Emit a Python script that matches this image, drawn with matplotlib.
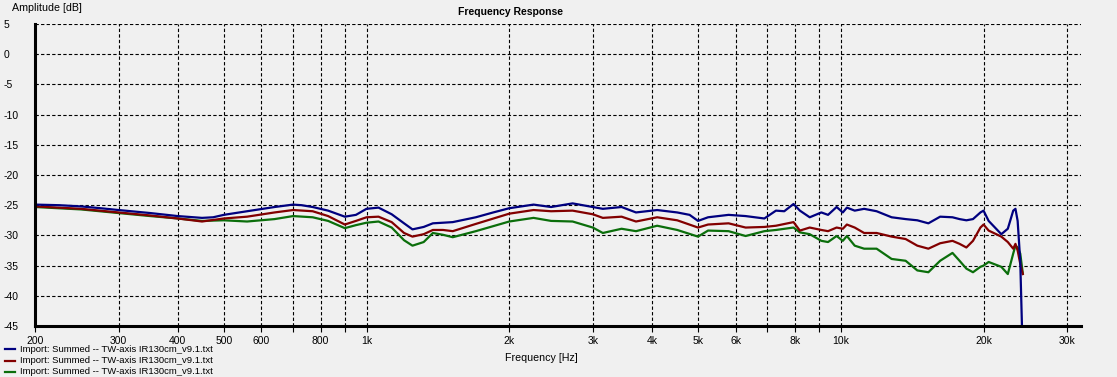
import matplotlib
matplotlib.use("Agg")
import matplotlib.pyplot as plt
from matplotlib.ticker import FixedLocator, NullLocator
import numpy as np

plt.rcParams['font.family'] = ['Liberation Sans', 'DejaVu Sans']
plt.rcParams['font.size'] = 7.5

freq_blue = [200, 225, 250, 275, 300, 350, 400, 450, 475, 500, 560, 640, 700, 730, 770,
             830, 900, 950, 1000, 1060, 1130, 1200, 1250, 1320, 1380, 1450, 1520, 1700,
             1850, 2000, 2250, 2450, 2720, 3000, 3150, 3450, 3700, 4100, 4520, 4800, 5000,
             5250, 5800, 6300, 6900, 7300, 7600, 7950, 8200, 8600, 9100, 9400, 9800, 10100,
             10300, 10700, 11200, 11900, 12800, 13700, 14500, 15300, 16200, 17200, 17800,
             18400, 19000, 19700, 20000, 20500, 21800, 22500, 23100, 23350, 23600, 23900,
             24100]
amp_blue = [-24.9, -25.0, -25.2, -25.5, -25.8, -26.3, -26.8, -27.1, -27.0, -26.6, -26.0,
            -25.3, -24.9, -25.0, -25.3, -25.9, -26.9, -26.6, -25.6, -25.4, -26.5, -28.0,
            -29.0, -28.6, -28.0, -27.9, -27.8, -27.0, -26.2, -25.5, -24.9, -25.3, -24.7,
            -25.3, -25.6, -25.3, -26.2, -25.8, -26.2, -26.6, -27.6, -27.0, -26.6, -26.8,
            -27.2, -25.9, -26.0, -24.8, -25.9, -27.0, -26.2, -26.6, -25.3, -26.2, -25.4,
            -25.9, -25.6, -26.0, -27.0, -27.3, -27.5, -28.0, -26.9, -27.0, -27.3, -27.5,
            -27.3, -26.2, -25.9, -27.6, -29.8, -28.9, -25.9, -25.6, -27.6, -34.2, -45.0]

freq_red = [200, 250, 300, 350, 400, 450, 500, 560, 640, 700, 770, 830, 900, 950, 1000,
            1060, 1130, 1200, 1250, 1320, 1380, 1450, 1520, 1700, 2000, 2250, 2450, 2720,
            3000, 3150, 3450, 3700, 4100, 4520, 5000, 5250, 5800, 6300, 6900, 7300, 7950,
            8200, 8600, 9100, 9400, 9800, 10100, 10300, 10700, 11200, 11900, 12800, 13700,
            14500, 15300, 16200, 17200, 17800, 18400, 19000, 19700, 20000, 20500, 21800,
            22500, 23100, 23350, 23600, 23900, 24200]
amp_red = [-25.2, -25.6, -26.2, -26.7, -27.2, -27.7, -27.2, -26.9, -26.2, -25.8, -26.0,
           -26.8, -28.2, -27.6, -27.0, -26.9, -27.8, -29.6, -30.2, -29.8, -29.1, -29.1,
           -29.3, -28.1, -26.4, -25.8, -26.0, -25.9, -26.5, -27.1, -26.9, -27.7, -27.0,
           -27.5, -28.7, -28.2, -28.0, -28.7, -28.6, -28.4, -27.8, -29.2, -28.7, -29.1,
           -29.3, -28.7, -28.9, -28.2, -28.7, -29.6, -29.6, -30.2, -30.6, -31.7, -32.2,
           -31.3, -30.9, -31.4, -32.0, -30.9, -28.7, -28.2, -29.2, -30.2, -31.1, -32.2,
           -31.4, -32.5, -34.7, -36.4]

freq_green = [200, 250, 300, 350, 400, 450, 500, 560, 640, 700, 770, 830, 900, 950, 1000,
              1060, 1130, 1200, 1250, 1320, 1380, 1450, 1520, 1700, 2000, 2250, 2450, 2720,
              3000, 3150, 3450, 3700, 4100, 4520, 5000, 5250, 5800, 6300, 6900, 7300, 7950,
              8200, 8600, 9100, 9400, 9800, 10100, 10300, 10700, 11200, 11900, 12800, 13700,
              14500, 15300, 16200, 17200, 17800, 18400, 19000, 19700, 20000, 20500, 21800,
              22500, 23100, 23350, 23600, 23900, 24200]
amp_green = [-25.3, -25.7, -26.3, -26.8, -27.2, -27.6, -27.5, -27.7, -27.3, -26.8, -27.0,
             -27.6, -28.8, -28.3, -27.9, -27.7, -28.7, -30.8, -31.7, -31.1, -29.6, -29.9,
             -30.3, -29.3, -27.7, -27.1, -27.6, -27.7, -28.7, -29.6, -28.9, -29.3, -28.4,
             -29.1, -30.2, -29.2, -29.3, -30.1, -29.3, -29.1, -28.7, -29.5, -29.8, -30.9,
             -31.1, -30.1, -30.9, -30.1, -31.7, -32.2, -32.2, -33.9, -34.2, -35.8, -36.1,
             -34.2, -32.9, -34.2, -35.5, -36.1, -35.2, -35.0, -34.4, -35.2, -36.4, -33.0,
             -31.7, -32.0, -33.0, -36.3]

grid_freqs = [300, 400, 500, 600, 700, 800, 900, 1000, 2000, 3000, 4000, 5000, 6000,
              7000, 8000, 9000, 10000, 20000, 30000]
tick_freqs = [200] + grid_freqs
tick_labels = ['200', '300', '400', '500', '600', '', '800', '', '1k', '2k', '3k', '4k',
               '5k', '6k', '', '8k', '', '10k', '20k', '30k']
amp_ticks = list(range(5, -50, -5))

legend_name = "Import: Summed -- TW-axis IR130cm_v9.1.txt"
bg = '#f0f0f0'

fig = plt.figure(figsize=(11.17, 3.77), dpi=100, facecolor=bg)
ax = fig.add_axes([35 / 1117, 1 - 326 / 377, (1081 - 35) / 1117, (326 - 24) / 377])
ax.set_facecolor(bg)

# .. grid ..
for f in grid_freqs:
    ax.axvline(f, color='black', lw=0.8, ls=(0, (3, 2)), zorder=1)
for a in amp_ticks[:-1]:
    ax.axhline(a, color='black', lw=0.8, ls=(0, (3, 2)), zorder=1)

# .. curves ..
ax.plot(freq_green, amp_green, color='#0b6e0b', lw=1.6, zorder=3)
ax.plot(freq_red, amp_red, color='#820000', lw=1.6, zorder=4)
ax.plot(freq_blue, amp_blue, color='#00007f', lw=1.6, zorder=5)

ax.set_xscale('log')
ax.set_xlim(200, 32100)
ax.set_ylim(-45, 5)
ax.xaxis.set_major_locator(FixedLocator(tick_freqs))
ax.xaxis.set_minor_locator(NullLocator())
ax.set_xticklabels(tick_labels)
ax.set_yticks(amp_ticks)
ax.set_yticklabels([str(a) for a in amp_ticks])

for s in ['top', 'right']:
    ax.spines[s].set_visible(False)
for s in ['left', 'bottom']:
    ax.spines[s].set_linewidth(2.2)
    ax.spines[s].set_zorder(6)

ax.tick_params(axis='x', direction='out', length=4, width=0.8, pad=3, labelsize=7.5)
ax.tick_params(axis='y', length=0, pad=22.5, labelsize=7.5)
for lab in ax.get_yticklabels():
    lab.set_horizontalalignment('left')

# .. texts ..
fig.text(510 / 1117, 1 - 12 / 377, "Frequency Response", ha='center', va='center',
         fontweight='bold', fontsize=7.5)
fig.text(12 / 1117, 1 - 8 / 377, "Amplitude [dB]", ha='left', va='center', fontsize=7.7)
fig.text(541 / 1117, 1 - 358 / 377, "Frequency [Hz]", ha='center', va='center', fontsize=7.7)

# .. legend ..
for i, c in enumerate(['#00007f', '#820000', '#0b6e0b']):
    yy = 1 - (349 + 11.5 * i) / 377
    fig.add_artist(plt.Line2D([5 / 1117, 15 / 1117], [yy, yy], color=c, lw=1.6))
    fig.text(20 / 1117, yy, legend_name, ha='left', va='center', fontsize=6.8)

fig.savefig("out.png", dpi=100, facecolor=bg)
